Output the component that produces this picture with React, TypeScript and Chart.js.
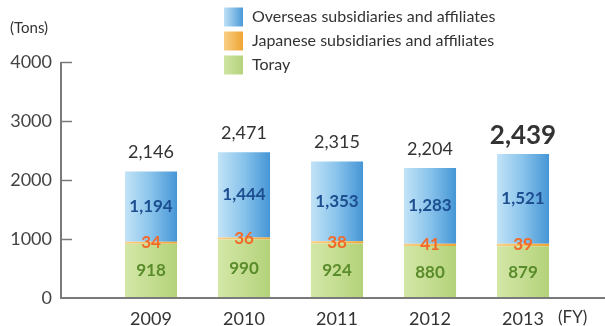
import React, { useEffect, useRef } from "react";
import { Chart, registerables } from "chart.js";

Chart.register(...registerables);

const years = ["2009", "2010", "2011", "2012", "2013"];
const toray = [918, 990, 924, 880, 879];
const japanese = [34, 36, 38, 41, 39];
const overseas = [1194, 1444, 1353, 1283, 1521];
const totals = [2146, 2471, 2315, 2204, 2439];
const yTickValues = [0, 1000, 2000, 3000, 4000];
const seriesNames = [
  "Overseas subsidiaries and affiliates",
  "Japanese subsidiaries and affiliates",
  "Toray",
];

const FONT = "Lato, 'Open Sans', sans-serif";
const fmt = (v: number) => v.toLocaleString("en-US");

function barGradient(ctx: any, stops: [number, string][], fallback: string) {
  const chart = ctx.chart;
  const x = chart.scales?.x;
  if (!chart.chartArea || !x) return fallback;
  const cx = x.getPixelForValue(ctx.dataIndex);
  const half = ((x.width / years.length) * 0.56) / 2;
  const g = chart.ctx.createLinearGradient(cx - half, 0, cx + half, 0);
  stops.forEach(([o, c]) => g.addColorStop(o, c));
  return g;
}

const decorPlugin = {
  id: "decor",
  afterDraw(chart: any) {
    const { ctx, scales } = chart;
    const y = scales.y;
    const axisX = 61;
    ctx.save();
    // axes
    ctx.strokeStyle = "#7a7a7a";
    ctx.lineWidth = 2;
    ctx.beginPath();
    ctx.moveTo(axisX, y.getPixelForValue(4000));
    ctx.lineTo(axisX, y.getPixelForValue(0));
    ctx.lineTo(605, y.getPixelForValue(0));
    ctx.stroke();
    ctx.lineWidth = 1.5;
    yTickValues.forEach((v) => {
      if (v === 0) return;
      const py = Math.round(y.getPixelForValue(v)) + 0.5;
      ctx.beginPath();
      ctx.moveTo(axisX, py);
      ctx.lineTo(axisX + 11, py);
      ctx.stroke();
    });

    // y tick labels
    ctx.fillStyle = "#444444";
    ctx.font = `18px ${FONT}`;
    ctx.textAlign = "right";
    ctx.textBaseline = "middle";
    yTickValues.forEach((v) => {
      ctx.fillText(String(v), 52, y.getPixelForValue(v));
    });

    // segment labels
    const segColors = ["#5b8c2b", "#f26a2a", "#1d4e8f"];
    const segData = [toray, japanese, overseas];
    ctx.textAlign = "center";
    segData.forEach((arr, di) => {
      const meta = chart.getDatasetMeta(di);
      ctx.fillStyle = segColors[di];
      ctx.font = `bold 17px ${FONT}`;
      arr.forEach((v, i) => {
        const el = meta.data[i];
        const cy = (el.y + el.base) / 2;
        ctx.fillText(fmt(v), el.x, cy);
      });
    });

    // totals
    const topMeta = chart.getDatasetMeta(2);
    totals.forEach((t, i) => {
      const el = topMeta.data[i];
      const last = i === totals.length - 1;
      ctx.fillStyle = "#333333";
      ctx.font = last ? `bold 26px ${FONT}` : `18px ${FONT}`;
      ctx.fillText(fmt(t), el.x, el.y - (last ? 18 : 19));
    });

    // axis captions
    ctx.fillStyle = "#333333";
    ctx.font = `15px ${FONT}`;
    ctx.textAlign = "left";
    ctx.fillText("(Tons)", 10, 28);
    ctx.font = `17px ${FONT}`;
    ctx.fillText("(FY)", 558, y.getPixelForValue(0) + 20);

    // legend
    const legendFills = [
      ["#bfe0f6", "#4b9ad8"],
      ["#f8cf85", "#f0a534"],
      ["#cfe4a3", "#b4d37a"],
    ];
    ctx.font = `16px ${FONT}`;
    seriesNames.forEach((name, i) => {
      const ly = 17 + i * 24;
      const g = ctx.createLinearGradient(224, 0, 243, 0);
      g.addColorStop(0, legendFills[i][0]);
      g.addColorStop(1, legendFills[i][1]);
      ctx.fillStyle = g;
      ctx.fillRect(224, ly - 9.5, 19, 19);
      ctx.fillStyle = "#333333";
      ctx.fillText(name, 252, ly);
    });
    ctx.restore();
  },
};

export default function App() {
  const ref = useRef<HTMLCanvasElement | null>(null);
  useEffect(() => {
    if (!ref.current) return;
    const chart = new Chart(ref.current, {
      type: "bar",
      data: {
        labels: years,
        datasets: [
          {
            label: seriesNames[2],
            data: toray,
            backgroundColor: (c: any) =>
              barGradient(c, [[0, "#d3e7a7"], [0.5, "#c4dd91"], [1, "#b3d279"]], "#c4dd91"),
          },
          {
            label: seriesNames[1],
            data: japanese,
            backgroundColor: (c: any) =>
              barGradient(c, [[0, "#f9cf85"], [1, "#f0a534"]], "#f3b755"),
          },
          {
            label: seriesNames[0],
            data: overseas,
            backgroundColor: (c: any) =>
              barGradient(c, [[0, "#c2e3f7"], [0.5, "#88c3eb"], [1, "#4596d6"]], "#88c3eb"),
          },
        ],
      },
      options: {
        responsive: false,
        animation: false,
        datasets: { bar: { categoryPercentage: 1, barPercentage: 0.56, borderWidth: 0 } },
        layout: { padding: { top: 62, right: 35.5, bottom: 0, left: 0 } },
        plugins: { legend: { display: false }, tooltip: { enabled: false } },
        scales: {
          x: {
            stacked: true,
            grid: { display: false, drawTicks: false },
            border: { display: false },
            ticks: { color: "#333333", font: { family: FONT, size: 18 }, padding: 10 },
            afterFit: (s: any) => {
              s.height = 28;
            },
          },
          y: {
            stacked: true,
            min: 0,
            max: 4000,
            grid: { display: false, drawTicks: false },
            border: { display: false },
            ticks: { display: false, stepSize: 1000 },
            afterFit: (s: any) => {
              s.width = 104.5;
            },
          },
        },
      },
      plugins: [decorPlugin],
    });
    return () => chart.destroy();
  }, []);
  return (
    <canvas
      ref={ref}
      width={605}
      height={326}
      style={{ position: "absolute", left: 0, top: 0, background: "#ffffff" }}
    />
  );
}
